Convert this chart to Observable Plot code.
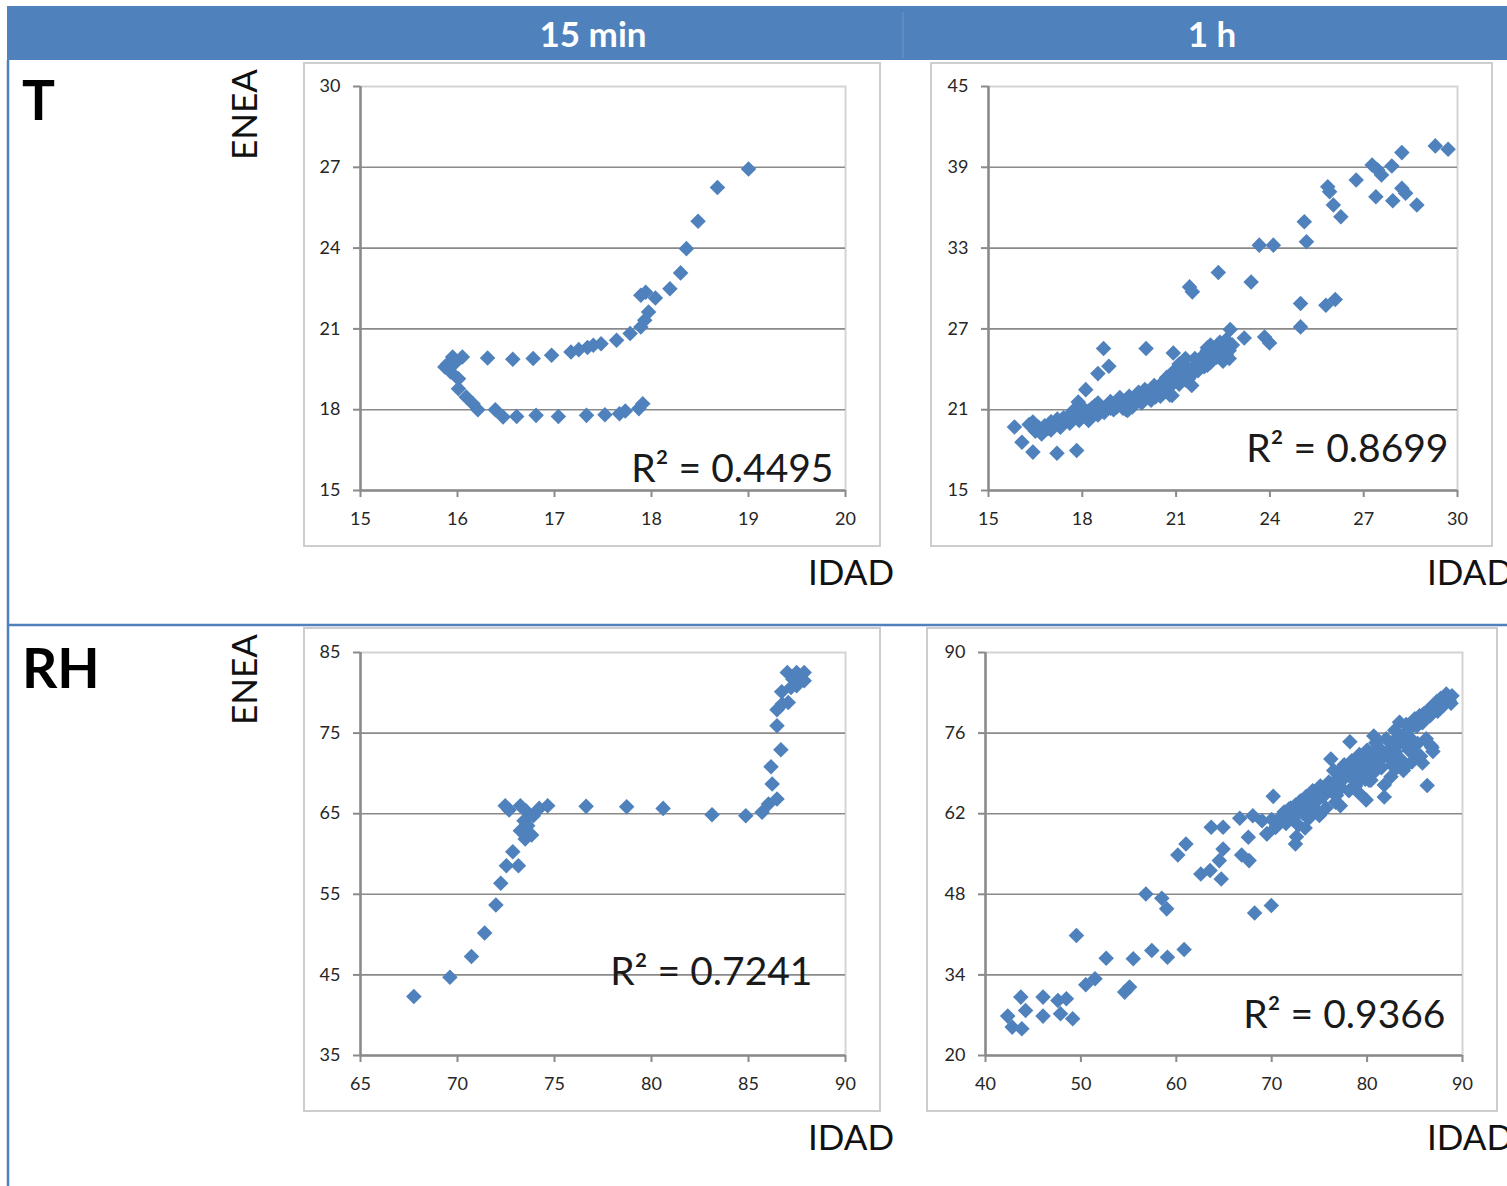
<!DOCTYPE html>
<html><head><meta charset="utf-8">
<script src="https://cdn.jsdelivr.net/npm/d3@7"></script>
<script src="https://cdn.jsdelivr.net/npm/@observablehq/plot@0.6"></script>
<style>
body{margin:0;background:#fff;font-family:Lato,"Open Sans",sans-serif;}
#root{position:relative;width:1507px;height:1186px;overflow:hidden;background:#fff;}
.frame{position:absolute;box-sizing:border-box;border:2px solid #cdcdcd;background:#fff;}
.panel{position:absolute;}
</style></head><body><div id="root"></div>
<script>
// ---------- labels ----------
const colLabels = ["15 min", "1 h"];
const rowLabels = ["T", "RH"];
const xAxisLabel = "IDAD";
const yAxisLabel = "ENEA";
const r2Labels = ["R² = 0.4495", "R² = 0.8699", "R² = 0.7241", "R² = 0.9366"];

// ---------- tick values ----------
const tempXTicks15 = [15, 16, 17, 18, 19, 20];
const tempYTicks15 = [15, 18, 21, 24, 27, 30];
const tempXTicks1h = [15, 18, 21, 24, 27, 30];
const tempYTicks1h = [15, 21, 27, 33, 39, 45];
const rhXTicks15 = [65, 70, 75, 80, 85, 90];
const rhYTicks15 = [35, 45, 55, 65, 75, 85];
const rhXTicks1h = [40, 50, 60, 70, 80, 90];
const rhYTicks1h = [20, 34, 48, 62, 76, 90];

// ---------- T, 15 min ----------
const t15Idad = [19.00,18.68,18.48,18.36,18.30,18.19,18.04,17.89,17.94,17.97,17.93,17.89,17.78,17.64,17.48,17.40,17.34,17.25,17.17,16.97,16.78,16.57,16.31,16.05,15.95,15.98,15.90,15.87,15.93,16.01,16.01,16.09,16.16,16.21,16.39,16.47,16.61,16.81,17.04,17.33,17.52,17.67,17.73,17.87,17.91];
const t15Enea = [26.94,26.25,25.00,23.98,23.08,22.49,22.15,22.25,22.36,21.63,21.32,21.07,20.83,20.58,20.45,20.39,20.31,20.23,20.14,20.02,19.90,19.87,19.92,19.96,19.96,19.75,19.70,19.59,19.40,19.15,18.78,18.47,18.22,18.00,18.00,17.73,17.75,17.79,17.75,17.79,17.81,17.85,17.95,18.04,18.22];

// ---------- T, 1 h ----------
const t1hIdad = [29.29,29.70,28.22,27.27,27.45,27.57,27.90,26.76,25.85,25.91,27.39,28.22,28.34,27.93,28.70,26.03,26.27,25.10,25.17,23.66,24.11,22.35,23.40,21.43,21.52,24.98,25.79,26.09,24.98,22.73,23.18,23.83,23.99,18.68,20.04,20.91,18.85,18.50,18.11,17.87,15.83,16.07,16.42,16.42,17.19,17.82,
 16.3,16.5,16.6,16.8,16.9,17.0,17.1,17.2,17.3,17.4,17.5,17.6,17.7,17.8,17.9,18.0,18.1,18.2,18.3,18.4,18.5,18.6,18.7,18.8,18.9,19.0,19.1,19.2,19.3,19.4,19.5,19.6,19.7,19.8,19.9,20.0,20.1,20.2,20.3,20.4,20.5,20.6,20.7,20.8,20.9,21.0,21.1,21.2,21.3,21.4,21.5,21.6,21.7,21.8,21.9,22.0,22.1,22.2,22.3,22.4,22.5,22.6,22.7,22.5,22.6,21.1,20.9,21.3,22.0,18.2,19.45,20.34,20.87,21.28,22.0,22.47,20.81,20.22,
 16.7,17.0,17.3,17.6,17.9,18.2,18.4,18.7,19.0,19.3,19.6,19.9,20.2,20.5,20.8,21.1,21.4,21.7,22.0,22.3,22.6,22.8,21.9,21.6,20.6,20.3,19.8,19.2,18.9,18.5,17.95,17.7,22.4,22.1,21.5,20.0,19.5,20.7,21.2,22.7];
const t1hEnea = [40.59,40.34,40.09,39.17,38.80,38.43,39.10,38.06,37.56,37.19,36.82,37.44,37.07,36.52,36.20,36.20,35.33,34.96,33.47,33.22,33.22,31.19,30.49,30.12,29.75,28.88,28.76,29.18,27.15,26.95,26.33,26.40,25.96,25.54,25.54,25.21,24.22,23.68,22.49,21.57,19.71,18.59,17.85,20.08,17.77,17.97,
 19.9,19.4,19.7,19.8,19.6,20.1,19.9,20.3,20.0,20.4,20.2,20.6,20.3,20.8,20.5,21.0,20.7,20.4,21.1,20.9,20.6,21.2,21.0,21.3,21.1,21.4,21.2,21.6,21.4,21.0,21.7,21.5,21.9,21.7,22.1,21.8,22.3,22.0,22.5,22.2,22.7,22.4,22.9,22.1,23.0,23.3,22.9,23.6,23.2,24.0,23.6,24.3,23.9,24.6,24.2,25.0,24.5,25.3,24.9,25.6,25.2,25.9,25.4,24.6,26.2,24.4,23.8,24.8,25.6,20.2,20.95,21.94,22.06,24.17,25.4,24.79,23.43,22.44,
 19.2,19.5,19.7,20.0,20.2,20.9,21.3,20.8,21.0,21.1,21.2,21.5,21.7,22.0,22.7,23.5,23.3,24.1,24.3,25.4,25.1,25.8,25.1,24.8,23.1,22.8,22.3,21.9,21.6,21.5,21.3,20.9,26.0,25.8,22.8,22.5,22.0,23.4,24.0,24.8];

// ---------- RH, 15 min ----------
const rh15Idad = [67.75,69.61,70.72,71.40,71.98,72.23,72.52,72.85,73.14,72.46,72.66,73.24,73.53,73.43,73.62,73.49,73.82,73.91,74.21,74.65,73.24,76.63,78.72,80.60,83.12,84.86,85.70,86.03,86.47,86.22,86.16,86.67,86.47,86.47,86.74,87.05,86.71,87.19,87.00,87.48,87.87,87.67,87.87,87.29,87.48];
const rh15Enea = [42.31,44.71,47.27,50.21,53.68,56.36,58.55,60.29,58.55,65.99,65.45,65.99,65.37,64.13,63.51,61.86,62.36,64.75,65.66,65.99,62.89,65.91,65.87,65.66,64.88,64.75,65.17,66.20,66.82,68.68,70.83,72.93,75.91,77.89,78.60,78.80,80.12,80.66,82.52,82.52,82.52,81.69,81.49,81.69,80.87];

// ---------- RH, 1 h ----------
const rh1hIdad = [42.33,42.80,43.81,43.70,44.20,46.03,46.03,47.59,47.86,48.48,49.14,49.53,50.51,51.48,52.65,54.59,55.10,55.49,56.81,57.43,58.48,58.99,59.07,60.82,60.16,61.01,62.57,63.54,64.71,63.66,64.90,64.51,64.90,66.85,67.63,67.55,68.21,69.96,66.65,68.02,68.99,69.49,70.16,70.54,72.49,
 71.0,71.5,71.8,72.2,72.5,72.8,73.0,73.3,73.6,73.9,74.0,74.3,74.6,74.9,75.1,75.4,75.7,76.0,76.3,76.5,76.7,77.0,77.3,77.6,77.9,78.1,78.4,78.7,79.0,79.2,79.5,79.8,80.0,80.3,80.6,80.9,81.2,81.5,81.8,82.0,82.3,82.6,82.9,83.2,83.5,83.8,84.1,84.4,84.7,85.0,85.3,85.6,85.9,86.2,86.5,86.8,87.1,87.4,87.7,88.0,88.3,88.6,88.9,76.2,78.2,80.7,83.4,85.5,86.9,86.3,79.1,79.9,81.8,75.0,77.2,73.5,72.6,70.0,69.5,70.4,84.0,82.5,80.2,
 71.3,72.0,72.7,73.2,73.8,74.5,75.3,75.9,76.6,77.1,77.5,78.0,78.5,79.0,79.4,79.7,80.2,80.5,81.0,81.4,81.7,82.2,82.7,83.0,83.6,84.0,84.3,84.6,85.2,85.8,86.1,86.6,87.0,87.3,87.8,88.2,88.5,88.8,74.2,76.8,78.8,80.4,83.0,84.9,85.8,86.7];
const rh1hEnea = [26.84,24.93,24.64,30.14,27.83,30.14,26.84,29.56,27.25,29.85,26.38,40.84,32.28,33.32,36.91,31.01,31.88,36.79,48.07,38.24,47.32,45.47,37.08,38.41,54.84,56.74,51.54,52.12,50.67,59.63,59.63,53.85,55.88,54.84,53.85,57.90,44.77,46.04,61.20,61.66,60.79,58.48,65.01,59.93,56.74,
 61.5,60.3,62.8,61.0,63.5,60.0,64.2,62.0,65.0,61.2,63.3,66.0,64.0,62.2,66.8,65.0,63.0,67.5,65.8,69.5,64.0,68.3,66.5,70.5,68.8,66.0,71.2,69.5,67.5,72.3,70.2,68.0,73.0,71.0,69.0,74.3,72.0,70.0,67.0,75.0,73.0,70.5,76.5,74.0,71.5,69.5,77.5,73.0,71.0,78.5,74.2,72.0,79.3,75.0,80.2,73.5,81.0,79.8,82.0,80.8,82.8,81.7,82.5,71.5,74.5,75.5,77.9,79.0,72.8,66.9,65.7,64.4,64.9,61.7,63.4,59.5,58.0,61.0,58.5,59.6,70.2,68.4,67.8,
 62.3,63.0,62.0,63.4,64.4,65.4,66.2,66.4,67.3,69.5,68.0,70.0,68.0,71.0,69.0,71.8,70.0,72.5,71.0,73.2,71.8,72.0,74.5,72.8,75.5,74.0,76.5,75.0,77.2,77.8,78.8,79.0,80.2,81.5,80.6,81.4,82.2,81.2,62.5,65.2,66.8,67.8,69.8,72.6,70.8,73.8];

// ---------- layout ----------
const BLUE = "#4F81BD";
const root = document.getElementById("root");

const overlay = d3.create("svg").attr("width", 1507).attr("height", 1186)
  .style("position", "absolute").style("left", 0).style("top", 0)
  .style("font-family", "Lato, 'Open Sans', sans-serif");
overlay.append("rect").attr("x", 7).attr("y", 6).attr("width", 1500).attr("height", 54).attr("fill", BLUE);
overlay.append("line").attr("x1", 903).attr("x2", 903).attr("y1", 12).attr("y2", 58).attr("stroke", "#6f97c8").attr("stroke-width", 1);
[593, 1212].forEach((cx, i) => overlay.append("text").attr("x", cx).attr("y", 47).attr("text-anchor", "middle")
  .attr("fill", "#fff").attr("font-weight", "bold").attr("font-size", 35).text(colLabels[i]));
overlay.append("line").attr("x1", 8).attr("x2", 8).attr("y1", 60).attr("y2", 1186).attr("stroke", BLUE).attr("stroke-width", 2.5);
overlay.append("line").attr("x1", 8).attr("x2", 1507).attr("y1", 625).attr("y2", 625).attr("stroke", BLUE).attr("stroke-width", 2.5);
[120, 688].forEach((by, i) => overlay.append("text").attr("x", 22).attr("y", by).attr("fill", "#000")
  .attr("font-weight", "bold").attr("font-size", 55).text(rowLabels[i]));
[160, 725].forEach(by => overlay.append("text").attr("transform", `translate(257,${by}) rotate(-90)`)
  .attr("fill", "#111").attr("font-size", 35).text(yAxisLabel));
[[808, 585], [1427, 585], [808, 1150], [1427, 1150]].forEach(([x, y]) => overlay.append("text")
  .attr("x", x).attr("y", y).attr("fill", "#111").attr("font-size", 35).text(xAxisLabel));
root.appendChild(overlay.node());

const panels = [
  {xs: t15Idad, ys: t15Enea, xT: tempXTicks15, yT: tempYTicks15, r2: r2Labels[0], box: [303, 62, 578, 485], m: [24, 36, 57, 57], dx: -12, dy: -20.5},
  {xs: t1hIdad, ys: t1hEnea, xT: tempXTicks1h, yT: tempYTicks1h, r2: r2Labels[1], box: [930, 62, 563, 485], m: [24, 36, 57, 58], dx: -9, dy: -41},
  {xs: rh15Idad, ys: rh15Enea, xT: rhXTicks15, yT: rhYTicks15, r2: r2Labels[2], box: [303, 627, 578, 485], m: [25, 36, 57, 57], dx: -33, dy: -82.5},
  {xs: rh1hIdad, ys: rh1hEnea, xT: rhXTicks1h, yT: rhYTicks1h, r2: r2Labels[3], box: [926, 627, 572, 485], m: [25, 36, 57, 59], dx: -17, dy: -39.5}
];

panels.forEach(p => {
  const [left, top, w, h] = p.box;
  const frame = document.createElement("div");
  frame.className = "frame";
  Object.assign(frame.style, {left: left + "px", top: top + "px", width: w + "px", height: h + "px"});
  root.appendChild(frame);

  const pts = p.xs.map((x, i) => ({x, y: p.ys[i]}));
  const chart = Plot.plot({
    width: w, height: h,
    marginTop: p.m[0], marginRight: p.m[1], marginBottom: p.m[2], marginLeft: p.m[3],
    x: {domain: [p.xT[0], p.xT[p.xT.length - 1]], axis: null, label: null},
    y: {domain: [p.yT[0], p.yT[p.yT.length - 1]], axis: null, label: null},
    style: {background: "transparent", fontFamily: "Lato, 'Open Sans', sans-serif", fontSize: "18px", color: "#262626"},
    marks: [
      Plot.frame({stroke: "#d4d4d4", strokeWidth: 2}),
      Plot.gridY(p.yT.slice(1, -1), {stroke: "#8a8a8a", strokeOpacity: 1, strokeWidth: 1.6}),
      Plot.axisY({ticks: p.yT, label: null, tickSize: 7, tickPadding: 13, stroke: "#8a8a8a", strokeWidth: 2, fill: "#262626", fontSize: 18, tickFormat: d => String(d)}),
      Plot.axisX({ticks: p.xT, label: null, tickSize: 7, tickPadding: 15, stroke: "#8a8a8a", strokeWidth: 2, fill: "#262626", fontSize: 18, tickFormat: d => String(d)}),
      Plot.ruleX([p.xT[0]], {stroke: "#8a8a8a", strokeWidth: 2.5}),
      Plot.ruleY([p.yT[0]], {stroke: "#8a8a8a", strokeWidth: 2.5}),
      Plot.dot(pts, {x: "x", y: "y", symbol: "diamond2", r: 7, fill: BLUE, stroke: "none"}),
      Plot.text([p.r2], {frameAnchor: "bottom-right", textAnchor: "end", lineAnchor: "middle", dx: p.dx, dy: p.dy, fontSize: 39, fill: "#1a1a1a"})
    ]
  });
  chart.classList.add("panel");
  Object.assign(chart.style, {left: left + "px", top: top + "px"});
  root.appendChild(chart);
});
</script></body></html>
